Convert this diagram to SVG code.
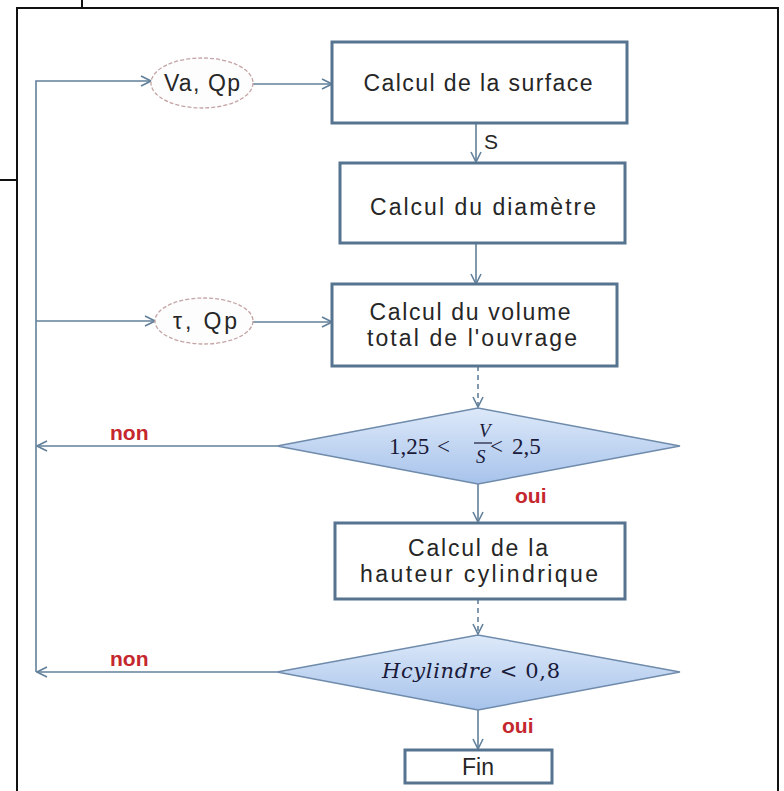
<svg xmlns="http://www.w3.org/2000/svg" width="784" height="791" viewBox="0 0 784 791">
<defs>
<style>
.box{fill:#ffffff;stroke:#56748f;stroke-width:3}
.ell{fill:#fdfdfd;stroke:#c4a4a4;stroke-width:1.3;stroke-dasharray:4 2}
.dia{fill:url(#dg);stroke:#6f8bab;stroke-width:1.5}
.con{fill:none;stroke:#62809a;stroke-width:1.6}
.dash{stroke-dasharray:5 4}
.t{font-family:"Liberation Sans",Arial,sans-serif;font-size:23px;fill:#262626;text-anchor:middle}
.lab{font-family:"Liberation Sans",Arial,sans-serif;font-size:21px;font-weight:bold;fill:#c4282e}
.m{font-family:"Liberation Serif","DejaVu Serif",serif;font-size:23px;fill:#1a1a3a}
.m2{font-family:"DejaVu Serif","Liberation Serif",serif;font-size:21px;fill:#1a1a3a}
.frame{fill:none;stroke:#111;stroke-width:2}
</style>
<linearGradient id="dg" x1="0" y1="0" x2="0" y2="1">
<stop offset="0" stop-color="#dde9f9"/>
<stop offset="1" stop-color="#a7c3eb"/>
</linearGradient>
<marker id="ah" viewBox="0 0 12 12" refX="11" refY="6" markerWidth="12" markerHeight="12" markerUnits="userSpaceOnUse" orient="auto">
<path d="M1,1 L11,6 L1,11" fill="none" stroke="#62809a" stroke-width="1.6"/>
</marker>
</defs>
<rect width="784" height="791" fill="#ffffff"/>
<path class="frame" d="M17,791 V8 H778 V791"/>
<path class="frame" d="M82,0 V8 M0,180 H16"/>

<g id="connectors">
<path class="con" d="M36,672 V81 H151" marker-end="url(#ah)"/>
<path class="con" d="M253,84 H332" marker-end="url(#ah)"/>
<path class="con" d="M36,321 H155" marker-end="url(#ah)"/>
<path class="con" d="M253,322 H332" marker-end="url(#ah)"/>
<path class="con" d="M476,123 V162" marker-end="url(#ah)"/>
<path class="con" d="M476,243 V284" marker-end="url(#ah)"/>
<path class="con dash" d="M478,366 V407" marker-end="url(#ah)"/>
<path class="con" d="M277,446 H37" marker-end="url(#ah)"/>
<path class="con" d="M478,484 V522" marker-end="url(#ah)"/>
<path class="con dash" d="M478,599 V634" marker-end="url(#ah)"/>
<path class="con" d="M277,672 H37" marker-end="url(#ah)"/>
<path class="con" d="M478,710 V749" marker-end="url(#ah)"/>
<text x="484" y="149" class="t" style="text-anchor:start;font-size:21px">S</text>
<text x="110" y="440" class="lab">non</text>
<text x="515" y="503" class="lab">oui</text>
<text x="110" y="666" class="lab">non</text>
<text x="502" y="733" class="lab">oui</text>
</g>

<g id="n-vaqp">
<ellipse class="ell" cx="202" cy="83" rx="51" ry="25"/>
<text x="202" y="91" class="t" textLength="76" lengthAdjust="spacing">Va, Qp</text>
</g>
<g id="n-surface">
<rect class="box" x="332" y="42" width="295" height="81"/>
<text x="478" y="91" class="t" textLength="229" lengthAdjust="spacing">Calcul de la surface</text>
</g>
<g id="n-diametre">
<rect class="box" x="340" y="163" width="285" height="80"/>
<text x="483" y="215" class="t" textLength="226" lengthAdjust="spacing">Calcul du diamètre</text>
</g>
<g id="n-tauqp">
<ellipse class="ell" cx="204" cy="321" rx="49" ry="23"/>
<text x="205" y="329" class="t" textLength="64" lengthAdjust="spacing">τ, Qp</text>
</g>
<g id="n-volume">
<rect class="box" x="332" y="284" width="285" height="82"/>
<text x="470" y="320" class="t" textLength="201" lengthAdjust="spacing">Calcul du volume</text>
<text x="472" y="346" class="t" textLength="210" lengthAdjust="spacing">total de l'ouvrage</text>
</g>
<g id="n-test1">
<polygon class="dia" points="277,446 478,408 680,446 478,484"/>
<text x="389" y="454" class="m">1,25</text>
<text x="437" y="454" class="m">&lt;</text>
<text x="479" y="437" class="m" style="font-style:italic;font-size:19px">V</text>
<line x1="474" y1="443" x2="492" y2="443" stroke="#1a1a3a" stroke-width="1.2"/>
<text x="476" y="463" class="m" style="font-style:italic;font-size:19px">S</text>
<text x="490" y="454" class="m">&lt;</text>
<text x="512" y="454" class="m">2,5</text>
</g>
<g id="n-hauteur">
<rect class="box" x="335" y="523" width="290" height="76"/>
<text x="478" y="556" class="t" textLength="140" lengthAdjust="spacing">Calcul de la</text>
<text x="479" y="582" class="t" textLength="238" lengthAdjust="spacing">hauteur cylindrique</text>
</g>
<g id="n-test2">
<polygon class="dia" points="277,672 478,635 680,672 478,710"/>
<text x="382" y="678" class="m2" textLength="178" lengthAdjust="spacing"><tspan style="font-style:italic">Hcylindre</tspan> &lt; 0,8</text>
</g>
<g id="n-fin">
<rect class="box" x="405" y="750" width="147" height="33"/>
<text x="478" y="775" class="t">Fin</text>
</g>
</svg>
